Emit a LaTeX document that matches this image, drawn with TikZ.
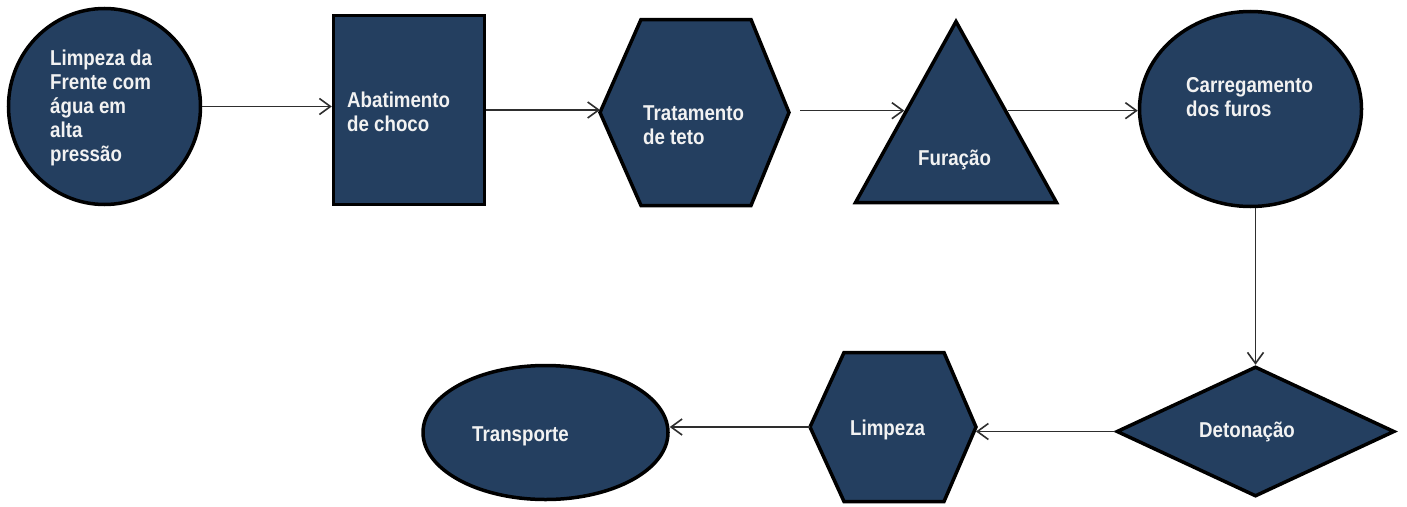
\documentclass[tikz,border=0pt]{standalone}
\usepackage{fontspec}
\setmainfont{Liberation Sans}[FakeStretch=0.87]
\usetikzlibrary{shapes.geometric,arrows.meta}
\definecolor{navy}{HTML}{243F60}
\definecolor{txtc}{HTML}{F2F2F2}
\definecolor{arrc}{HTML}{2E2E2E}
\begin{document}
\begin{tikzpicture}[x=1pt,y=-1pt,
  shp/.style={draw=black, line width=3.5pt, fill=navy, inner sep=0pt},
  box/.style={inner sep=0pt, outer sep=0pt},
  lbl/.style={text=txtc, font=\fontsize{21.5}{24}\selectfont\bfseries, align=left, inner sep=0pt, anchor=base west},
  conn/.style={draw=arrc, line width=1.6pt, -{Straight Barb[length=11pt,width=16pt]}}]
\fill[white] (0,0) rectangle (1407,506);
\useasboundingbox (0,0) rectangle (1407,506);
% shapes
\node[shp, ellipse, minimum width=192, minimum height=196] (c1) at (104.5,106.5) {};
\node[shp, rectangle, minimum width=151, minimum height=189] (ab) at (409,110) {};
\node[box, minimum width=189, minimum height=186] (tt) at (694.5,112.5) {};
\draw[shp] (tt.west) -- ([xshift=41]tt.north west) -- ([xshift=-38]tt.north east) -- (tt.east) -- ([xshift=-38]tt.south east) -- ([xshift=41]tt.south west) -- cycle;
\node[shp, isosceles triangle, isosceles triangle stretches, shape border rotate=90, minimum width=201, minimum height=181, anchor=apex] (fu) at (956,17) {};
\node[shp, ellipse, minimum width=222, minimum height=195] (cr) at (1250.5,109) {};
\node[shp, diamond, minimum width=278, minimum height=130] (de) at (1255.5,431.5) {};
\node[box, minimum width=166, minimum height=149] (li) at (893,427) {};
\draw[shp] (li.west) -- ([xshift=34]li.north west) -- ([xshift=-32]li.north east) -- (li.east) -- ([xshift=-32]li.south east) -- ([xshift=34]li.south west) -- cycle;
\node[shp, ellipse, minimum width=245, minimum height=134] (tr) at (545.5,432.5) {};
% connectors
\draw[conn] (c1.east) -- (c1.east -| ab.west);
\draw[conn] (ab.east) -- (ab.east -| tt.west);
\draw[conn, shorten <=11pt] (tt.east |- fu.left side) -- (fu.left side);
\draw[conn] (fu.right side) -- (fu.right side -| cr.west);
\draw[conn] (de.north |- cr.south) -- (de.north);
\draw[conn] (de.west) -- (de.west -| li.east);
\draw[conn] (li.west) -- (li.west -| tr.east);
% labels (anchor at baseline of the last line)
\node[lbl] (t1) at (50,161) {Limpeza da\\Frente com\\água em\\alta\\pressão};
\node[lbl] (t2) at (347,131) {Abatimento\\de choco};
\node[lbl] (t3) at (643,144) {Tratamento\\de teto};
\node[lbl] (t4) at (918,165) {Furação};
\node[lbl] (t5) at (1186,116) {Carregamento\\dos furos};
\node[lbl] (t6) at (1199,437) {Detonação};
\node[lbl] (t7) at (850,435) {Limpeza};
\node[lbl] (t8) at (472,441) {Transporte};
\end{tikzpicture}
\end{document}
